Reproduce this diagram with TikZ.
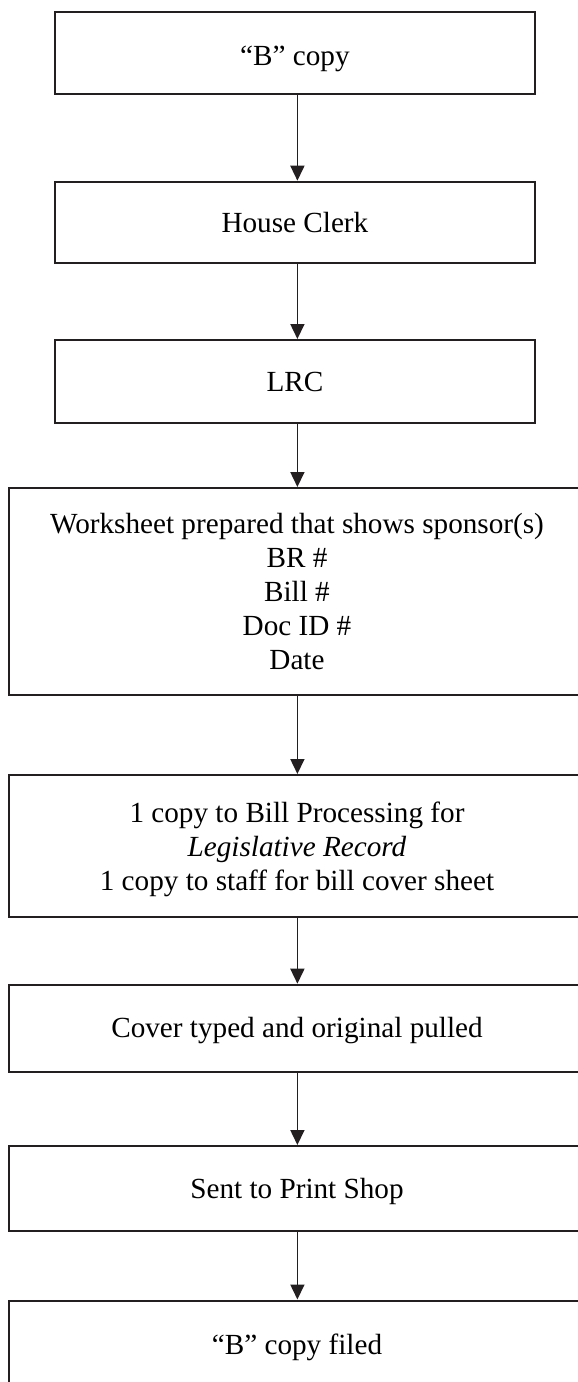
\documentclass[tikz,border=0pt]{standalone}
\usepackage{fontspec}
\setmainfont{Liberation Serif}
\usetikzlibrary{arrows.meta}
\definecolor{ink}{HTML}{231F20}
\begin{document}
\begin{tikzpicture}[x=1pt,y=-1pt,
  stepbox/.style={draw=ink, line width=2pt, rectangle, inner sep=0pt, align=center,
    font=\fontsize{29.2}{34}\selectfont, text=black},
  oneline/.style={text height=19.3pt, text depth=0pt},
  arr/.style={draw=ink, line width=1.6pt, -{Triangle[length=15pt,width=14pt]}}]
\useasboundingbox (0,0) rectangle (578,1382);
\node[stepbox, text height=26.3pt, text depth=2.3pt, minimum width=480.8pt, minimum height=82.6pt] (b1) at (294.9,53) {“B” copy};
\node[stepbox, oneline, minimum width=480.8pt, minimum height=81.6pt] (b2) at (294.9,222.5) {House Clerk};
\node[stepbox, oneline, minimum width=480.8pt, minimum height=82.7pt] (b3) at (294.9,381.35) {LRC};
\node[stepbox, minimum width=576pt, minimum height=206.5pt] (b4) at (297,591.25) {Worksheet prepared that shows sponsor(s)\\BR \#\\Bill \#\\Doc ID \#\\Date};
\node[stepbox, minimum width=576pt, minimum height=141.5pt] (b5) at (297,845.75) {1 copy to Bill Processing for\\\textit{Legislative Record}\\\raisebox{0pt}[\height][0pt]{1 copy to staff for bill cover sheet}};
\node[stepbox, oneline, minimum width=576pt, minimum height=87pt] (b6) at (297,1028.2) {Cover typed and original pulled};
\node[stepbox, oneline, minimum width=576pt, minimum height=85pt] (b7) at (297,1188.5) {Sent to Print Shop};
\node[stepbox, oneline, minimum width=576pt, minimum height=89pt] (b8) at (297,1345) {“B” copy filed};
\coordinate (ax) at (297.4,0);
\draw[arr] (b1.south -| ax) -- (b2.north -| ax);
\draw[arr] (b2.south -| ax) -- (b3.north -| ax);
\draw[arr] (b3.south -| ax) -- (b4.north -| ax);
\draw[arr] (b4.south -| ax) -- (b5.north -| ax);
\draw[arr] (b5.south -| ax) -- (b6.north -| ax);
\draw[arr] (b6.south -| ax) -- (b7.north -| ax);
\draw[arr] (b7.south -| ax) -- (b8.north -| ax);
\end{tikzpicture}
\end{document}
